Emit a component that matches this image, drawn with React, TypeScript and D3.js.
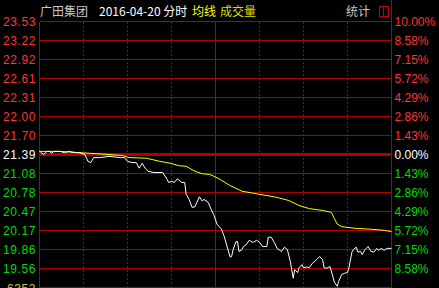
import React from "react";
import * as d3 from "d3";

const W = 439;
const H = 288;

const stockName = "广田集团";
const dateLabel = "2016-04-20 分时";
const avgLabel = "均线";
const volLabel = "成交量";
const statLabel = "统计";
const volumeMax = "6352";

const prevClose = 21.39;

const priceTicks = ["23.53", "23.22", "22.92", "22.61", "22.31", "22.00", "21.70", "21.39", "21.08", "20.78", "20.47", "20.17", "19.86", "19.56"];
const pctTicks = ["10.00%", "8.58%", "7.15%", "5.72%", "4.29%", "2.86%", "1.43%", "0.00%", "1.43%", "2.86%", "4.29%", "5.72%", "7.15%", "8.58%"];

// minutes since open (0..240) and price
const priceMinutes = [0, 1, 3, 5, 7, 8, 10, 14, 17, 20, 24, 27, 31, 33, 35, 37, 41, 48, 55, 58, 60, 63, 66, 68, 70, 72, 74, 78, 84, 87, 88, 90, 92, 94, 97, 99, 100, 102, 104, 106, 109, 111, 112, 115, 117, 119, 121, 124, 126, 128, 130, 131, 132, 134, 135, 136, 138, 139, 141, 143, 145, 146, 148, 150, 152, 155, 156, 158, 160, 162, 165, 167, 169, 171, 173, 174, 176, 177, 179, 180, 182, 184, 186, 189, 191, 193, 194, 196, 198, 200, 201, 203, 204, 206, 208, 210, 211, 213, 214, 216, 217, 219, 220, 222, 224, 226, 228, 230, 231, 233, 235, 237, 240];
const priceValues = [21.45, 21.42, 21.39, 21.44, 21.44, 21.41, 21.44, 21.44, 21.42, 21.44, 21.42, 21.42, 21.39, 21.28, 21.26, 21.34, 21.34, 21.36, 21.34, 21.34, 21.28, 21.26, 21.26, 21.17, 21.25, 21.17, 21.12, 21.10, 21.10, 20.99, 20.94, 20.96, 20.94, 21.00, 20.94, 20.94, 20.75, 20.67, 20.54, 20.55, 20.71, 20.64, 20.67, 20.62, 20.51, 20.41, 20.27, 20.19, 20.07, 19.90, 19.74, 19.75, 19.86, 19.99, 19.99, 19.83, 19.86, 19.91, 19.94, 20.01, 19.98, 19.98, 20.01, 19.98, 19.91, 19.91, 20.06, 20.06, 19.98, 19.88, 19.83, 19.90, 19.86, 19.67, 19.40, 19.54, 19.49, 19.57, 19.62, 19.57, 19.58, 19.57, 19.64, 19.70, 19.75, 19.70, 19.57, 19.56, 19.59, 19.43, 19.34, 19.27, 19.35, 19.46, 19.48, 19.49, 19.57, 19.82, 19.86, 19.90, 19.82, 19.83, 19.78, 19.86, 19.91, 19.83, 19.82, 19.88, 19.85, 19.88, 19.85, 19.88, 19.88];

const avgMinutes = [0, 14, 27, 48, 57, 61, 73, 82, 89, 95, 100, 106, 111, 116, 119, 123, 130, 138, 150, 162, 170, 177, 184, 193, 199, 201, 203, 206, 216, 225, 235, 240];
const avgValues = [21.44, 21.44, 21.42, 21.39, 21.37, 21.34, 21.33, 21.28, 21.25, 21.21, 21.20, 21.12, 21.08, 21.07, 21.04, 20.99, 20.89, 20.80, 20.75, 20.70, 20.65, 20.57, 20.52, 20.49, 20.46, 20.36, 20.27, 20.23, 20.20, 20.19, 20.17, 20.15];

const gridMinutes = [30, 60, 90, 120, 150, 180, 210];

const GRID = "#b00000";
const RED = "#ff3434";
const GREEN = "#00dc00";

export default function App() {
  const left = 39.5;
  const right = 391.5;
  const top = 21.5;
  const bottom = 287.5;

  const x = d3.scaleLinear().domain([0, 240]).range([left, right]);
  const y = d3.scaleLinear().domain([-10, 10]).range([bottom, top]);
  const toPct = (p: number) => (p / prevClose - 1) * 100;

  const levels = d3.range(15).map((i) => 10 - (i * 10) / 7);

  const priceLine = d3
    .line<number>()
    .x((_, i) => x(priceMinutes[i]))
    .y((d) => y(toPct(d)));
  const avgLine = d3
    .line<number>()
    .x((_, i) => x(avgMinutes[i]))
    .y((d) => y(toPct(d)));

  const labelColor = (i: number) => (i < 7 ? RED : i === 7 ? "#ffffff" : GREEN);
  const numFont = "'Liberation Sans', Arial, sans-serif";
  const cjkFont = "'Noto Sans CJK SC', 'Liberation Sans', sans-serif";

  return (
    <svg
      width={W}
      height={H}
      viewBox={`0 0 ${W} ${H}`}
      style={{ position: "fixed", left: 0, top: 0, background: "#000" }}
    >
      <rect x={0} y={0} width={W} height={H} fill="#000" />
      {/* header */}
      <g fontFamily={cjkFont} fontSize={12}>
        <text x={40} y={15.5} fill="#c8c8c8">{stockName}</text>
        <text x={99} y={15.5} fill="#ffffff">{dateLabel}</text>
        <text x={192} y={15.5} fill="#ffff00">{avgLabel}</text>
        <text x={220} y={15.5} fill="#dcdc00">{volLabel}</text>
        <text x={346} y={15.5} fill="#c8c8c8">{statLabel}</text>
      </g>
      <g stroke="#c80000" fill="none" shapeRendering="crispEdges">
        <rect x={379.5} y={6.5} width={9} height={10} />
        <line x1={383.5} x2={383.5} y1={6.5} y2={16.5} />
      </g>

      {/* horizontal grid */}
      <g shapeRendering="crispEdges">
        {levels.map((lv, i) => (
          <line
            key={i}
            x1={left}
            x2={right}
            y1={y(lv)}
            y2={y(lv)}
            stroke={GRID}
            strokeWidth={i === 7 ? 3 : 1}
          />
        ))}
        {gridMinutes.map((m) => (
          <line
            key={m}
            x1={x(m)}
            x2={x(m)}
            y1={top}
            y2={H}
            stroke={GRID}
            strokeWidth={1}
            strokeDasharray={m === 120 ? undefined : "2,2"}
          />
        ))}
        <line x1={left} x2={left} y1={top} y2={H} stroke={GRID} />
        <line x1={right} x2={right} y1={0} y2={H} stroke={GRID} />
      </g>

      {/* axis labels */}
      <g fontFamily={numFont} fontSize={12}>
        {priceTicks.map((t, i) => (
          <text
            key={"p" + i}
            x={36}
            y={y(levels[i]) + 4.5}
            textAnchor="end"
            fill={labelColor(i)}
            letterSpacing={0.6}
          >
            {t}
          </text>
        ))}
        {pctTicks.map((t, i) => (
          <text key={"r" + i} x={394.5} y={y(levels[i]) + 4.5} fill={labelColor(i)}>
            {t}
          </text>
        ))}
        <text x={36} y={292.5} textAnchor="end" fill="#c8c83c" letterSpacing={0.6}>
          {volumeMax}
        </text>
      </g>

      {/* lines */}
      <path d={avgLine(avgValues) || ""} fill="none" stroke="#ffff00" strokeWidth={1} />
      <path d={priceLine(priceValues) || ""} fill="none" stroke="#ffffff" strokeWidth={1} />
    </svg>
  );
}
